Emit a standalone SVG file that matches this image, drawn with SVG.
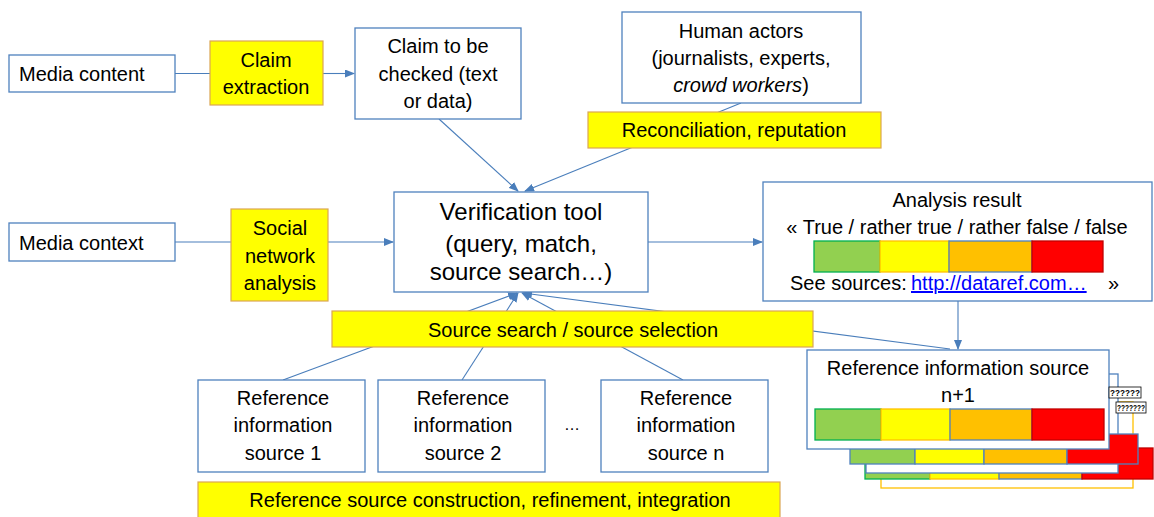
<svg xmlns="http://www.w3.org/2000/svg" width="1154" height="517" viewBox="0 0 1154 517">
<style>
text{font-family:"Liberation Sans",Arial,sans-serif;font-size:20px;fill:#000}
.c{text-anchor:middle}
.big{font-size:24px}
.box{fill:#fff;stroke:#4f81bd;stroke-width:1.3}
.yel{fill:#ffff00;stroke:#dba654;stroke-width:1.2}
.ln{stroke:#4a7ebb;stroke-width:1.1;fill:none}
.g{fill:#92d050;stroke:#00b050;stroke-width:1.3}
.y{fill:#ffff00;stroke:#ffc000;stroke-width:1.3}
.o{fill:#ffc000;stroke:#4f81bd;stroke-width:1.3}
.r{fill:#ff0000;stroke:#c00000;stroke-width:1.3}
.tofu{font-size:9px;font-weight:bold}
.link{fill:#0000ff;text-decoration:underline}
.ell{font-size:16px}
</style>
<defs>
<marker id="ah" markerWidth="10" markerHeight="8" refX="9" refY="4" orient="auto" markerUnits="userSpaceOnUse">
<path d="M0,0 L10,4 L0,8 Z" fill="#4a7ebb"/>
</marker>
</defs>
<g id="connectors">
<line class="ln" x1="175" y1="73.5" x2="210" y2="73.5"/>
<line class="ln" x1="323" y1="73.5" x2="354" y2="73.5" marker-end="url(#ah)"/>
<line class="ln" x1="175" y1="242" x2="231" y2="242"/>
<line class="ln" x1="328" y1="242" x2="393" y2="242" marker-end="url(#ah)"/>
<line class="ln" x1="648" y1="242" x2="762" y2="242" marker-end="url(#ah)"/>
<line class="ln" x1="958" y1="301" x2="958" y2="349" marker-end="url(#ah)"/>
<line class="ln" x1="439" y1="119" x2="518" y2="191" marker-end="url(#ah)"/>
<line class="ln" x1="741" y1="103" x2="525" y2="191" marker-end="url(#ah)"/>
<line class="ln" x1="283" y1="380" x2="517" y2="293" marker-end="url(#ah)"/>
<line class="ln" x1="462" y1="380" x2="518" y2="293" marker-end="url(#ah)"/>
<line class="ln" x1="683" y1="380" x2="522" y2="293" marker-end="url(#ah)"/>
<line class="ln" x1="950" y1="349" x2="523" y2="293" marker-end="url(#ah)"/>
</g>
<g id="media-content">
<rect class="box" x="9" y="55" width="166" height="37"/>
<text x="19" y="81">Media content</text>
</g>
<g id="claim-extraction">
<rect class="yel" x="210" y="41" width="113" height="64"/>
<text class="c" x="266" y="67">Claim</text>
<text class="c" x="266" y="94">extraction</text>
</g>
<g id="claim-to-be-checked">
<rect class="box" x="355" y="28" width="166" height="91"/>
<text class="c" x="438" y="53">Claim to be</text>
<text class="c" x="438" y="81">checked (text</text>
<text class="c" x="438" y="108">or data)</text>
</g>
<g id="human-actors">
<rect class="box" x="622" y="12" width="239" height="91"/>
<text class="c" x="741" y="38">Human actors</text>
<text class="c" x="741" y="65">(journalists, experts,</text>
<text class="c" x="741" y="92"><tspan font-style="italic">crowd workers</tspan>)</text>
</g>
<g id="reconciliation">
<rect class="yel" x="588" y="112" width="293" height="36"/>
<text class="c" x="734" y="137">Reconciliation, reputation</text>
</g>
<g id="media-context">
<rect class="box" x="9" y="223" width="166" height="38"/>
<text x="19" y="250">Media context</text>
</g>
<g id="social-network-analysis">
<rect class="yel" x="231" y="209" width="97" height="92"/>
<text class="c" x="280" y="235">Social</text>
<text class="c" x="280" y="263">network</text>
<text class="c" x="280" y="290">analysis</text>
</g>
<g id="verification-tool">
<rect class="box" x="394" y="192" width="254" height="100"/>
<text class="c big" x="521" y="220">Verification tool</text>
<text class="c big" x="521" y="252">(query, match,</text>
<text class="c big" x="521" y="280">source search…)</text>
</g>
<g id="analysis-result">
<rect class="box" x="763" y="182" width="389" height="119"/>
<text class="c" x="957" y="207">Analysis result</text>
<text class="c" x="957" y="234">« True / rather true / rather false / false</text>
<rect class="g" x="814" y="241" width="66" height="31"/>
<rect class="y" x="880" y="241" width="69" height="31"/>
<rect class="o" x="949" y="241" width="83" height="31"/>
<rect class="r" x="1032" y="241" width="71" height="31"/>
<text x="790" y="290">See sources:</text>
<text class="link" x="911" y="290">http://dataref.com…</text>
<text x="1108" y="290">»</text>
</g>
<g id="source-search">
<rect class="yel" x="332" y="311" width="481" height="36"/>
<text class="c" x="573" y="337">Source search / source selection</text>
</g>
<g id="ref-source-1">
<rect class="box" x="198" y="380" width="167" height="92"/>
<text class="c" x="283" y="405">Reference</text>
<text class="c" x="283" y="432">information</text>
<text class="c" x="283" y="460">source 1</text>
</g>
<g id="ref-source-2">
<rect class="box" x="378" y="380" width="167" height="92"/>
<text class="c" x="463" y="405">Reference</text>
<text class="c" x="463" y="432">information</text>
<text class="c" x="463" y="460">source 2</text>
</g>
<g id="ellipsis">
<text class="c ell" x="572" y="430">…</text>
</g>
<g id="ref-source-n">
<rect class="box" x="601" y="380" width="167" height="92"/>
<text class="c" x="686" y="405">Reference</text>
<text class="c" x="686" y="432">information</text>
<text class="c" x="686" y="460">source n</text>
</g>
<g id="ref-construction">
<rect class="yel" x="198" y="482" width="582" height="40"/>
<text class="c" x="490" y="507">Reference source construction, refinement, integration</text>
</g>
<g id="ref-source-stack">
<rect x="881" y="402" width="252" height="86" fill="#fff" stroke="#ffc000" stroke-width="1.3"/>
<rect class="g" x="865" y="448" width="65" height="31"/>
<rect class="y" x="930" y="448" width="69" height="31"/>
<rect class="o" x="999" y="448" width="83" height="31"/>
<rect class="r" x="1082" y="448" width="71" height="31"/>
<rect class="box" x="866" y="374" width="252" height="99"/>
<rect x="850" y="434" width="65" height="30" fill="#92d050" stroke="#4f81bd" stroke-width="1.3"/>
<rect x="915" y="434" width="69" height="30" fill="#ffff00" stroke="#4f81bd" stroke-width="1.3"/>
<rect x="984" y="434" width="83" height="30" fill="#ffc000" stroke="#4f81bd" stroke-width="1.3"/>
<rect x="1067" y="434" width="71" height="30" fill="#ff0000" stroke="#4f81bd" stroke-width="1.3"/>
<rect class="box" x="807" y="350" width="302" height="99"/>
<text class="c" x="958" y="375">Reference information source</text>
<text class="c" x="958" y="402">n+1</text>
<rect class="g" x="815" y="409" width="66" height="31"/>
<rect class="y" x="881" y="409" width="69" height="31"/>
<rect class="o" x="950" y="409" width="82" height="31"/>
<rect class="r" x="1032" y="409" width="72" height="31"/>
<rect x="1109" y="387" width="32" height="11" fill="#fff" stroke="#000" stroke-width="0.8"/>
<text class="tofu" x="1110" y="396" textLength="30" lengthAdjust="spacingAndGlyphs">??????</text>
<rect x="1116" y="402" width="30" height="11" fill="#fff" stroke="#000" stroke-width="0.8"/>
<text class="tofu" x="1117" y="411" textLength="28" lengthAdjust="spacingAndGlyphs">???????</text>
</g>
</svg>
